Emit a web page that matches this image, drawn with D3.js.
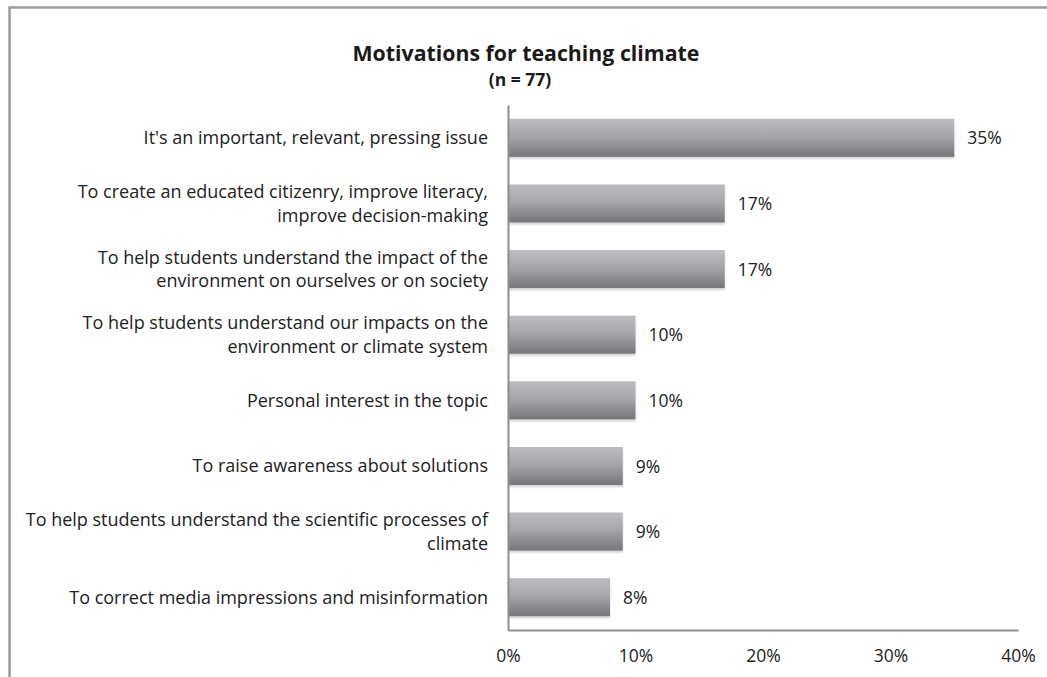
<!DOCTYPE html>
<html><head><meta charset="utf-8">
<script src="https://cdn.jsdelivr.net/npm/d3@7"></script>
<style>
html,body{margin:0;padding:0;background:#fff;}
svg{display:block;font-family:"Open Sans",sans-serif;}
</style></head>
<body><svg id="chart" width="1047" height="677"></svg>
<script>
const categories = [
  "It's an important, relevant, pressing issue",
  "To create an educated citizenry, improve literacy,\nimprove decision-making",
  "To help students understand the impact of the\nenvironment on ourselves or on society",
  "To help students understand our impacts on the\nenvironment or climate system",
  "Personal interest in the topic",
  "To raise awareness about solutions",
  "To help students understand the scientific processes of\nclimate",
  "To correct media impressions and misinformation"
];
const values = [35, 17, 17, 10, 10, 9, 9, 8];
const tickValues = [0, 10, 20, 30, 40];
const title = "Motivations for teaching climate";
const subtitle = "(n = 77)";

const svg = d3.select("#chart");
const defs = svg.append("defs");
const grad = defs.append("linearGradient").attr("id","barGrad")
  .attr("x1",0).attr("y1",0).attr("x2",0).attr("y2",1);
grad.append("stop").attr("offset","0%").attr("stop-color","#bdbdc1");
grad.append("stop").attr("offset","45%").attr("stop-color","#a7a7ab");
grad.append("stop").attr("offset","100%").attr("stop-color","#76767a");
const filt = defs.append("filter").attr("id","shadow").attr("x","-5%").attr("y","-10%").attr("width","110%").attr("height","130%");
filt.append("feDropShadow").attr("dx",0).attr("dy",2).attr("stdDeviation",1.2).attr("flood-color","#000").attr("flood-opacity",0.18);

// outer border
svg.append("rect").attr("x",9.5).attr("y",7.5).attr("width",1100).attr("height",800)
  .attr("fill","none").attr("stroke","#9c9ca0").attr("stroke-width",2.5);

const x = d3.scaleLinear().domain([0,40]).range([508,1018]);
const y = d3.scaleBand().domain(categories).range([105,630]).paddingInner(0.42).paddingOuter(0.21);

svg.append("text").attr("x",526).attr("y",61).attr("text-anchor","middle")
  .attr("font-size",21.3).attr("font-weight","bold").attr("fill","#1a1a1a").text(title);
svg.append("text").attr("x",520).attr("y",86).attr("text-anchor","middle")
  .attr("font-size",17.5).attr("font-weight","bold").attr("fill","#1a1a1a").text(subtitle);

// bars
svg.append("g").selectAll("rect").data(values).join("rect")
  .attr("x", x(0))
  .attr("y", (d,i)=>y(categories[i]))
  .attr("width", d=>x(d)-x(0))
  .attr("height", y.bandwidth())
  .attr("fill","url(#barGrad)")
  .attr("filter","url(#shadow)");

// value labels
svg.append("g").selectAll("text").data(values).join("text")
  .attr("x", d=>x(d)+13)
  .attr("y", (d,i)=>y(categories[i])+y.bandwidth()/2)
  .attr("dy","0.38em")
  .attr("font-size",17.5).attr("fill","#222")
  .text(d=>d+"%");

// category labels
const lab = svg.append("g").selectAll("text").data(categories).join("text")
  .attr("x",488)
  .attr("text-anchor","end")
  .attr("font-size",18).attr("fill","#222");
lab.each(function(c){
  const lines = c.split("\n");
  const cy = y(c)+y.bandwidth()/2;
  const lh = 23.5;
  const t = d3.select(this);
  lines.forEach((ln,k)=>{
    t.append("tspan").attr("x",488)
      .attr("y", cy + (k-(lines.length-1)/2)*lh)
      .attr("dy","0.36em").text(ln);
  });
});

// axes
const xAxis = svg.append("g").attr("transform","translate(0,630)")
  .call(d3.axisBottom(x).tickValues(tickValues).tickSize(0).tickPadding(20).tickFormat(d=>d+"%"));
xAxis.select(".domain").attr("stroke","#8e8e92").attr("stroke-width",2);
xAxis.selectAll("text").attr("font-size",17.5).attr("fill","#222").attr("font-family","Open Sans");

const yAxis = svg.append("g").attr("transform","translate(508,0)")
  .call(d3.axisLeft(y).tickSize(0).tickFormat(""));
yAxis.select(".domain").attr("stroke","#8e8e92").attr("stroke-width",2);
</script>
</body></html>
